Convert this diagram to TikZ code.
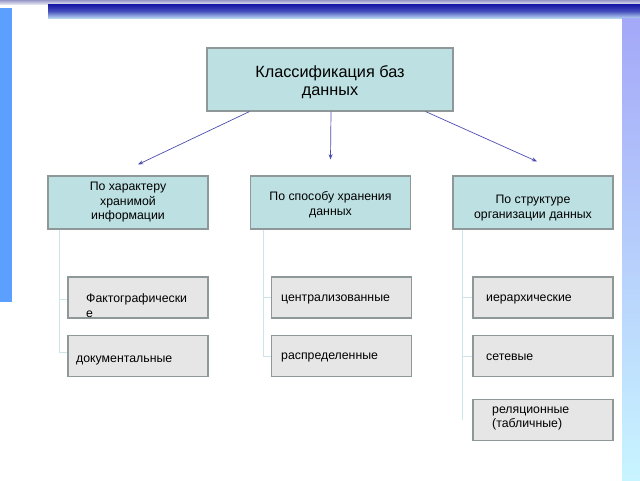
\documentclass[tikz,border=0pt]{standalone}
\usepackage{fontspec}
\setmainfont{Liberation Sans}
\usetikzlibrary{arrows.meta}
\usetikzlibrary{positioning}

\definecolor{boxteal}{RGB}{189,224,226}
\definecolor{boxgrey}{RGB}{230,230,230}
\definecolor{edgegrey}{RGB}{142,152,152}
\definecolor{arrblue}{RGB}{78,78,178}
\definecolor{treeline}{RGB}{205,228,232}
\definecolor{striptop}{RGB}{150,150,200}
\definecolor{stripbot}{RGB}{225,225,240}
\definecolor{bardark}{RGB}{20,20,165}
\definecolor{barlight}{RGB}{180,210,240}
\definecolor{leftblue}{RGB}{92,160,255}
\definecolor{rightTop}{RGB}{164,168,248}
\definecolor{rightBot}{RGB}{200,244,255}
\newcommand{\px}{0.04cm}

\begin{document}
\begin{tikzpicture}[x=\px, y=-\px]
	\tikzstyle{head}=[draw=edgegrey, line width=1.2pt, fill=boxteal,
	                        align=center, inner sep=0pt];
	\tikzstyle{kid}=[draw=edgegrey, line width=1.2pt, fill=boxgrey,
	                        minimum width=140*\px, minimum height=41*\px, inner sep=0pt];
	\tikzstyle{kidtext}=[anchor=west, align=left, inner sep=0pt,
	                        font=\fontsize{14}{16.5}\selectfont];
	\tikzstyle{arr}=[draw=arrblue, line width=0.8pt, -{Stealth[length=6pt, width=4.5pt]}];
	\tikzstyle{tree}=[draw=treeline, line width=0.9pt];
	\useasboundingbox (0,0) rectangle (640,480);
	% background of the slide
	\fill[white] (0,0) rectangle (640,480);
	\shade[top color=striptop, bottom color=stripbot] (0,0) rectangle (640,4);
	\shade[top color=bardark, bottom color=barlight, middle color=bardark!70!barlight] (48,4) rectangle (640,18);
	\fill[leftblue] (0,8) rectangle (12,302);
	\shade[top color=rightTop, bottom color=rightBot] (622,18) rectangle (640,480);

	\node[head, minimum width=246*\px, minimum height=63*\px,
	      font=\fontsize{18.5}{20.5}\selectfont] (root) at (330,79.5)
	      {\rule{0pt}{19pt}Классификация баз\\данных};

	\node[head, minimum width=160*\px, minimum height=53*\px,
	      font=\fontsize{14}{16.5}\selectfont] (p1) at (128,202.5)
	      {По характеру\\хранимой\\информации};
	\node[head, minimum width=160*\px, minimum height=53*\px,
	      font=\fontsize{14}{16.5}\selectfont] (p2) at (330.5,202.5)
	      {\rule{0pt}{15pt}По способу хранения\\данных};
	\node[head, minimum width=160*\px, minimum height=53*\px,
	      font=\fontsize{14}{16.5}\selectfont] (p3) at (533,202.5)
	      {\rule{0pt}{22pt}По структуре\\организации данных};

	\draw[arr] ([xshift=43*\px]root.south west) -- ([xshift=10*\px, yshift=11*\px]p1.north);
	\draw[arr] ([xshift=1*\px]root.south) -- ([yshift=16*\px]p2.north);
	\draw[arr] ([xshift=-28*\px]root.south east) -- ([xshift=4*\px, yshift=14*\px]p3.north);

	\node[kid] (fakt) at (138,297.5) {};
	\node[kid] (doc) at (138,356) {};
	\node[kid] (centr) at (341.5,297.5) {};
	\node[kid] (raspr) at (341.5,356) {};
	\node[kid] (ierar) at (543,297.5) {};
	\node[kid] (set) at (543,356) {};
	\node[kid] (rel) at (543,420) {};

	\node[kidtext] (fakt-t) at (86,305.5) {Фактографически\\е};
	\node[kidtext] (doc-t) at (76,360) {документальные};
	\node[kidtext] (centr-t) at (281,299) {централизованные};
	\node[kidtext] (raspr-t) at (281,357) {распределенные};
	\node[kidtext] (ierar-t) at (486,299) {иерархические};
	\node[kidtext] (set-t) at (486,357) {сетевые};
	\node[kidtext] (rel-t) at (492,418.5) {реляционные\\(табличные)};

	\coordinate (t1) at ([xshift=12*\px]p1.south west);
	\coordinate (t2) at ([xshift=13*\px]p2.south west);
	\coordinate (t3) at ([xshift=10*\px]p3.south west);
	\draw[tree] (t1) |- ([yshift=-2*\px]fakt.west);
	\draw[tree] (t1) |- ([yshift=4*\px]doc.west);
	\draw[tree] (t2) |- (centr.west);
	\draw[tree] (t2) |- (raspr.west);
	\draw[tree] (t3) |- (ierar.west);
	\draw[tree] (t3) |- (set.west);
	\draw[tree] (t3) -- (t3 |- rel.center);
	\end{tikzpicture}
\end{document}
